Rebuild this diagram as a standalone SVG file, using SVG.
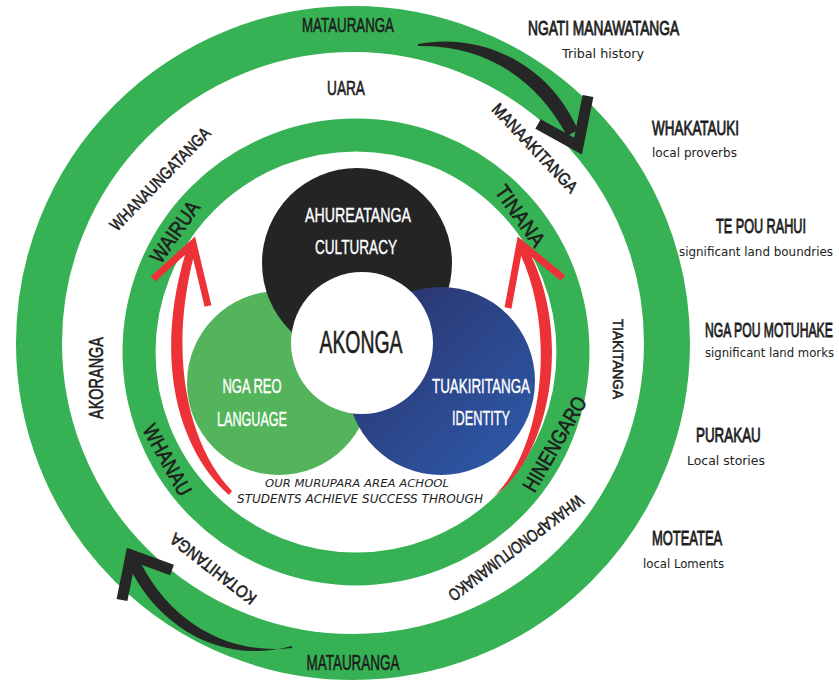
<svg xmlns="http://www.w3.org/2000/svg" width="839" height="683" viewBox="0 0 839 683">
  <style>
    .h { font-family: "Liberation Sans Narrow", "Liberation Sans", Arial, sans-serif; fill: #1e1e1e; stroke: #1e1e1e; stroke-width: 0.6; text-anchor: middle; }
    .hs { font-family: "Liberation Sans Narrow", "Liberation Sans", Arial, sans-serif; fill: #1e1e1e; stroke: #1e1e1e; stroke-width: 0.9; text-anchor: start; font-size: 21px; }
    .wt { font-family: "Liberation Sans Narrow", "Liberation Sans", Arial, sans-serif; fill: #ffffff; stroke: #ffffff; stroke-width: 0.4; text-anchor: middle; }
    .sub { font-family: "DejaVu Sans", "Liberation Sans", sans-serif; fill: #222; text-anchor: start; font-size: 12px; }
    .note { font-family: "DejaVu Sans", "Liberation Sans", sans-serif; fill: #1e1e1e; text-anchor: middle; font-style: italic; }
    .ring { fill: none; stroke: #36b254; }
    .red { fill: none; stroke: #ec3237; stroke-width: 7; stroke-linecap: butt; stroke-linejoin: miter; }
    .redfill { fill: #ec3237; }
    .blk { fill: none; stroke: #262626; stroke-width: 11; stroke-linecap: butt; stroke-linejoin: miter; }
    .blkfill { fill: #262626; }
  </style>
  <defs>
    <linearGradient id="blueGrad" x1="0" y1="0" x2="1" y2="1">
      <stop offset="0" stop-color="#2a3066"/>
      <stop offset="1" stop-color="#2e5cae"/>
    </linearGradient>
  </defs>

  <rect width="839" height="683" fill="#ffffff"/>

  <!-- outer ring -->
  <g id="outer-ring">
    <circle class="ring" cx="353" cy="343" r="314" stroke-width="46"/>
    <text class="h" x="348" y="32" font-size="21" textLength="92" lengthAdjust="spacingAndGlyphs">MATAURANGA</text>
    <text class="h" x="353" y="670" font-size="22" textLength="93" lengthAdjust="spacingAndGlyphs">MATAURANGA</text>
  </g>

  <!-- values between the rings -->
  <g id="values">
    <text class="h" x="346" y="95" font-size="20" textLength="38" lengthAdjust="spacingAndGlyphs">UARA</text>
    <text class="h" transform="translate(160,179) rotate(-46)" y="6" font-size="17" textLength="136" lengthAdjust="spacingAndGlyphs">WHANAUNGATANGA</text>
    <text class="h" transform="translate(535,148) rotate(46.5)" y="6" font-size="17" textLength="116" lengthAdjust="spacingAndGlyphs">MANAAKITANGA</text>
    <text class="h" transform="translate(97,378) rotate(-90)" y="6" font-size="21" textLength="82" lengthAdjust="spacingAndGlyphs">AKORANGA</text>
    <text class="h" transform="translate(618,359) rotate(90)" y="5" font-size="15" textLength="80" lengthAdjust="spacingAndGlyphs">TIAKITANGA</text>
    <text class="h" transform="translate(516,548) rotate(143)" y="6" font-size="17" textLength="164" lengthAdjust="spacingAndGlyphs">WHAKAPONO/TUMANAKO</text>
    <text class="h" transform="translate(213,569) rotate(218)" y="6" font-size="17" textLength="104" lengthAdjust="spacingAndGlyphs">KOTAHITANGA</text>
  </g>

  <!-- inner ring -->
  <g id="inner-ring">
    <circle class="ring" cx="356" cy="352" r="217" stroke-width="33"/>
    <text class="h" transform="translate(175,232) rotate(-55)" y="7" font-size="21" textLength="70" lengthAdjust="spacingAndGlyphs">WAIRUA</text>
    <text class="h" transform="translate(520,216) rotate(54.5)" y="7" font-size="21" textLength="70" lengthAdjust="spacingAndGlyphs">TINANA</text>
    <text class="h" transform="translate(167,460) rotate(61)" y="7" font-size="21" textLength="78" lengthAdjust="spacingAndGlyphs">WHANAU</text>
    <text class="h" transform="translate(555,444) rotate(-60)" y="7" font-size="21" textLength="106" lengthAdjust="spacingAndGlyphs">HINENGARO</text>
  </g>

  <!-- three overlapping circles -->
  <g id="nga-reo">
    <circle cx="279" cy="383" r="92" fill="#53b45c"/>
  </g>
  <g id="ahureatanga">
    <circle cx="357" cy="263" r="95" fill="#242424"/>
    <text class="wt" x="358" y="222" font-size="20" textLength="106" lengthAdjust="spacingAndGlyphs">AHUREATANGA</text>
    <text class="wt" x="356" y="254" font-size="21" textLength="82" lengthAdjust="spacingAndGlyphs">CULTURACY</text>
  </g>
  <g id="tuakiritanga">
    <circle cx="441" cy="381" r="94" fill="url(#blueGrad)"/>
    <text class="wt" x="481" y="393" font-size="21" textLength="98" lengthAdjust="spacingAndGlyphs">TUAKIRITANGA</text>
    <text class="wt" x="481" y="425" font-size="21" textLength="58" lengthAdjust="spacingAndGlyphs">IDENTITY</text>
  </g>
  <g id="nga-reo-label">
    <text class="wt" x="252" y="393" font-size="20" textLength="59" lengthAdjust="spacingAndGlyphs">NGA REO</text>
    <text class="wt" x="252" y="426" font-size="21" textLength="70" lengthAdjust="spacingAndGlyphs">LANGUAGE</text>
  </g>
  <g id="akonga">
    <circle cx="362" cy="343" r="71" fill="#ffffff"/>
    <text class="h" x="361" y="353" font-size="31" stroke-width="0.9" textLength="83" lengthAdjust="spacingAndGlyphs">AKONGA</text>
  </g>

  <g id="statement">
    <text class="note" x="357" y="487" font-size="11" textLength="184" lengthAdjust="spacingAndGlyphs">OUR MURUPARA AREA ACHOOL</text>
    <text class="note" x="360" y="503" font-size="12" textLength="246" lengthAdjust="spacingAndGlyphs">STUDENTS ACHIEVE SUCCESS THROUGH</text>
  </g>

  <!-- side labels: headings are condensed horizontally by scale(0.6,1) -->
  <g id="ngati-manawatanga">
    <text class="hs" transform="translate(528,35) scale(0.6,1)" textLength="252" lengthAdjust="spacingAndGlyphs">NGATI MANAWATANGA</text>
    <text class="sub" x="562" y="58" textLength="82" lengthAdjust="spacingAndGlyphs">Tribal history</text>
  </g>
  <g id="whakatauki">
    <text class="hs" transform="translate(652,135) scale(0.6,1)" textLength="145" lengthAdjust="spacingAndGlyphs">WHAKATAUKI</text>
    <text class="sub" x="652" y="157" textLength="85" lengthAdjust="spacingAndGlyphs">local proverbs</text>
  </g>
  <g id="te-pou-rahui">
    <text class="hs" transform="translate(716,233) scale(0.6,1)" textLength="150" lengthAdjust="spacingAndGlyphs">TE POU RAHUI</text>
    <text class="sub" x="679" y="256" textLength="154" lengthAdjust="spacingAndGlyphs">significant land  boundries</text>
  </g>
  <g id="nga-pou-motuhake">
    <text class="hs" transform="translate(705,337) scale(0.6,1)" textLength="213" lengthAdjust="spacingAndGlyphs">NGA POU MOTUHAKE</text>
    <text class="sub" x="705" y="357" textLength="129" lengthAdjust="spacingAndGlyphs">significant land morks</text>
  </g>
  <g id="purakau">
    <text class="hs" transform="translate(696,442) scale(0.6,1)" textLength="108" lengthAdjust="spacingAndGlyphs">PURAKAU</text>
    <text class="sub" x="687" y="465" textLength="78" lengthAdjust="spacingAndGlyphs">Local stories</text>
  </g>
  <g id="moteatea">
    <text class="hs" transform="translate(652,545) scale(0.6,1)" textLength="117" lengthAdjust="spacingAndGlyphs">MOTEATEA</text>
    <text class="sub" x="643" y="568" textLength="81" lengthAdjust="spacingAndGlyphs">local Loments</text>
  </g>

  <!-- connectors -->
  <g id="connectors">
    <!-- red arrow, left -->
    <path class="redfill" d="M 229 495 C 180 452 150 360 189 242 L 197 244 C 164 360 192 450 232 491 Z"/>
    <polyline class="red" points="153,279 193,243 208,306"/>
    <!-- red arrow, right -->
    <path class="redfill" d="M 494 496 C 541 452 560 330 516 245 L 524 242 C 575 330 550 452 499 492 Z"/>
    <polyline class="red" points="508,308 520,243 563,278"/>
    <!-- black arrow, top right -->
    <path class="blkfill" d="M 418 44 C 480 32 548 62 578 130 L 567 136 C 536 76 480 44 418 46 Z"/>
    <polyline class="blk" points="588,96 578,146 538,124"/>
    <!-- black arrow, bottom left -->
    <path class="blkfill" d="M 292 646 C 220 666 155 625 127 562 L 138 557 C 165 616 222 656 292 648 Z"/>
    <polyline class="blk" points="122,600 131,555 172,570"/>
  </g>
</svg>
